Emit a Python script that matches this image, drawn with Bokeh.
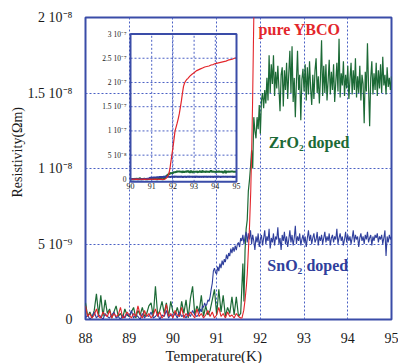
import numpy as np
from bokeh.plotting import figure
from bokeh.models import Range1d, FixedTicker, Label, Title
from bokeh.embed import file_html
from bokeh.resources import INLINE
from bokeh.core.properties import value

# ---------------- data (resistivity in units of 1e-9 Ohm m) ----------------
# measurement grids (K)
T_base_step = 0.05
T_fine_step = 0.025

# pure YBCO
red_base = [0.9,0.2,0.4,0.1,0.3,0.7,0.2,0.1,0.5,0.3,
            0.2,0.6,0.1,0.4,0.2,0.3,0.8,0.1,0.2,0.5,
            0.3,0.1,0.4,0.2,0.9,0.3,0.1,0.6,0.2,0.4,
            0.1,0.3,0.7,0.2,0.5,0.1,0.3,1.0,0.2,0.4,
            0.1,0.6,0.3,0.2,0.8,0.1,0.4,0.2,0.5,0.3,
            0.1,0.7,0.2,0.4,0.1,0.3,0.6,0.2,0.5,0.1,
            0.3,0.8,0.2,0.4,0.1,0.5,0.2,0.3,0.1,0.4,
            0.2,0.1]
red_rise_T = [91.58,91.62,91.65,91.68,91.70,91.72,91.75,91.78,91.80,91.82,
              91.84,91.86,91.90,91.95,92.00,92.05,92.10,92.15,92.20,92.25,
              92.30,92.35,92.40,92.45,92.50,92.55,92.60,92.65,92.70,92.80,
              92.90,93.00,93.10,93.20,93.30,93.40,93.50,93.60,93.70,93.80,
              93.90,94.00,94.10,94.20,94.30,94.40,94.50,94.60,94.70,94.80,
              94.90,95.00]
red_rise_R = [0.1,0.6,1.3,2.2,3.0,4.2,6.0,8.5,11,14,
              18,22,35,50,65,82,100,108,116,125,
              135,148,162,178,192,199,203,206,208,213,
              217,220,224,226,228,230,232,233,234,236,
              237,239,240,241,242,243,244,246,247,248,
              250,251]

# ZrO2 doped
green_base = [1.1,0.2,0.5,0.1,0.6,1.7,0.3,1.6,0.2,1.3,
              0.4,0.7,0.1,0.5,0.9,0.2,0.4,0.1,0.7,0.3,
              0.2,0.5,0.8,0.1,0.6,0.3,0.8,0.2,0.4,0.9,
              1.1,0.2,2.2,0.3,0.6,1.2,0.4,1.1,0.2,1.2,
              0.5,0.3,0.8,0.2,1.2,0.4,1.3,0.1,1.4,2.2,
              0.3,0.9,0.5,1.6,0.2,0.9,0.3,0.6,1.3,2.0,
              0.3,2.0,0.5,1.6,0.2,0.8,0.4,1.5,0.3,1.5,
              0.2,0.4]
green_fine = [3.7,1.2,4.6,6.0,6.6,8.5,9.2,10.1,11.2,10.0,13.4,12.5,12.0,13.4,12.6,14.2,
              12.3,14.5,15.0,14.0,15.2,14.3,16.0,14.5,17.5,15.0,
              16.9,15.6,17.5,14.8,16.4,15.3,16.8,15.3,13.8,16.2,
              16.7,14.1,16.5,15.2,17.0,14.6,16.3,17.8,15.0,18.1,
              14.4,16.0,13.4,15.8,17.8,15.2,16.2,13.2,15.9,16.6,
              15.1,16.9,14.5,16.7,14.9,17.1,15.3,14.2,16.2,14.6,
              16.5,17.3,15.0,16.1,14.3,16.0,18.5,14.8,16.8,15.0,
              16.9,14.5,15.8,17.2,14.9,16.4,15.2,16.9,14.4,15.7,
              17.0,15.1,18.6,14.7,16.3,15.5,17.1,14.8,16.2,15.3,
              16.8,14.6,15.9,17.0,14.9,16.5,15.2,17.3,14.7,16.1,
              15.0,16.8,14.5,16.2,15.6,13.0,16.4,15.1,18.3,15.4,
              12.8,16.0,17.1,14.9,16.3,15.2,17.0,14.8,16.5,15.3,
              16.9,15.0,17.4,15.5,16.2,14.9,16.7,15.4,16.0,15.2,
              16.1]

# SnO2 doped
blue_base = [0.1,0.3,0.0,0.2,0.5,0.1,0.3,0.2,0.0,0.4,
             0.2,0.1,0.3,0.5,0.1,0.2,0.0,0.3,0.1,0.4,
             0.2,0.6,0.1,0.3,0.2,0.0,0.4,0.1,0.3,0.2,
             0.5,0.1,0.2,0.4,0.0,0.3,0.2,0.6,0.1,0.3,
             0.2,0.4,0.1,0.5,0.2,0.3,0.1,0.4,0.2,0.6,
             0.3,0.2]
blue_fine = [0.4,0.7,0.5,0.9,0.8,1.1,0.9,1.0,1.3,1.2,
             1.5,2.0,2.4,3.2,3.4,3.1,3.0,3.5,3.2,3.7,
             3.4,3.9,3.6,4.0,3.8,4.3,4.0,4.4,4.2,4.7,
             4.4,4.8,4.5,4.9,4.6,5.0,5.1,4.8,5.4,5.2,
             5.6,5.0,5.5,5.8,5.1,5.7,5.3,5.9,5.0,5.6,
             5.2,4.6,5.5,5.1,5.7,4.8,5.3,
             5.6,4.9,5.4,5.9,5.0,5.5,5.2,6.0,4.7,5.4,
             5.1,5.7,4.9,5.5,5.3,6.1,5.0,5.4,4.6,5.6,
             5.2,5.8,5.0,5.5,4.8,5.3,5.9,5.1,5.6,4.9,
             5.4,6.2,5.0,5.5,5.2,5.7,4.9,5.3,5.6,5.1,
             5.5,4.8,5.4,5.9,5.2,5.6,5.0,5.4,5.7,5.1,
             5.3,5.8,4.9,5.5,5.2,5.6,5.0,5.4,5.8,5.1,
             5.5,5.2,5.7,4.9,5.4,5.6,5.1,5.5,5.3,6.0,
             5.0,5.4,5.7,5.2,5.5,4.9,5.3,5.8,5.1,5.6,
             5.2,5.5,5.0,5.4,5.9,5.1,5.6,5.3,5.5,4.8,
             5.4,5.7,5.2,5.5,5.0,5.6,5.3,5.8,5.1,5.4,
             5.6,4.9,5.5,5.2,5.6,5.4,5.7,5.1,5.5,5.3,
             5.6,5.0,5.4,5.9,4.2,5.5,5.1,5.6,5.3,5.5]

# axes
x_ticks = [88, 89, 90, 91, 92, 93, 94, 95]
y_ticks = [0, 5, 10, 15, 20]
y_tick_labels = ["0", "5 10\u207b\u2079", "1 10\u207b\u2078", "1.5 10\u207b\u2078", "2 10\u207b\u2078"]
inset_x_ticks = [90, 91, 92, 93, 94, 95]
inset_x_labels = ["90", "91", "92", "93", "94", "95"]
inset_y_ticks = [0, 50, 100, 150, 200, 250, 300]
inset_y_labels = ["0", "5 10\u207b\u2078", "1 10\u207b\u2077", "1.5 10\u207b\u2077",
                  "2 10\u207b\u2077", "2.5 10\u207b\u2077", "3 10\u207b\u2077"]

# ---------------- assemble series ----------------
def grid(start, step, n):
    return np.round(start + step * np.arange(n), 3)

red_T = np.concatenate([grid(88.0, T_base_step, len(red_base)), red_rise_T])
red_R = np.concatenate([red_base, red_rise_R])
green_T = np.concatenate([grid(88.0, T_base_step, len(green_base)), grid(91.6, T_fine_step, len(green_fine))])
green_R = np.concatenate([green_base, green_fine])
blue_T = np.concatenate([grid(88.0, T_base_step, len(blue_base)), grid(90.6, T_fine_step, len(blue_fine))])
blue_R = np.concatenate([blue_base, blue_fine])

RED = "#e3262b"
GREEN = "#1c6a36"
BLUE = "#2f3f9c"
FRAME = "#3a4ca8"
GRID = "#4a60c4"
SERIF = "Liberation Serif"
INK = "#1a1a1a"

p = figure(width=398, height=363, x_range=Range1d(88, 95), y_range=Range1d(0, 20),
           output_backend="svg", toolbar_location=None,
           min_border_left=85, min_border_right=7, min_border_top=17, min_border_bottom=44)
p.extra_x_ranges = {"ix": Range1d(87.877, 102.311)}
p.extra_y_ranges = {"iy": Range1d(-289.2, 334.1)}

p.outline_line_color = FRAME
p.outline_line_width = 2
for ax in (p.xaxis[0], p.yaxis[0]):
    ax.axis_line_color = None
    ax.major_tick_line_color = None
    ax.minor_tick_line_color = None
    ax.major_label_text_font = SERIF
    ax.major_label_text_font_size = "14px"
    ax.major_label_text_color = INK
    ax.major_label_standoff = 7
p.xaxis[0].ticker = FixedTicker(ticks=x_ticks)
p.yaxis[0].ticker = FixedTicker(ticks=y_ticks)
p.yaxis[0].major_label_overrides = {t: s for t, s in zip(y_ticks, y_tick_labels)}
p.xgrid.ticker = FixedTicker(ticks=x_ticks)
p.ygrid.ticker = FixedTicker(ticks=y_ticks)
for g in (p.xgrid[0], p.ygrid[0]):
    g.grid_line_color = GRID
    g.grid_line_dash = "2 2"
    g.grid_line_width = 1

# axis titles as side titles (so they can be offset like the original)
p.add_layout(Title(text="Temperature(K)", align="left", offset=80, standoff=0,
                   text_font=SERIF, text_font_size="15px", text_font_style="normal",
                   text_color=INK), "below")
p.add_layout(Title(text="Resistivity(\u03a9m)", align="left", offset=122, standoff=0,
                   text_font=SERIF, text_font_size="14px", text_font_style="normal",
                   text_color=INK), "left")

# main curves
p.line(green_T, green_R, color=GREEN, line_width=1.2)
p.line(blue_T, blue_R, color=BLUE, line_width=1.1)
p.line(red_T, red_R, color=RED, line_width=1.1)

# inset (same data, its own scales)
ig_x = [90, 95]
for t in inset_x_ticks[1:-1]:
    p.line([t, t], [-5, 300], x_range_name="ix", y_range_name="iy",
           color=GRID, line_dash="2 2", line_width=1)
for v in inset_y_ticks[1:-1]:
    p.line(ig_x, [v, v], x_range_name="ix", y_range_name="iy",
           color=GRID, line_dash="2 2", line_width=1)

def inset_part(T, R):
    T = np.asarray(T); R = np.asarray(R)
    m = T >= 90
    return T[m], R[m]

for T, R, c, w in ((green_T, green_R, GREEN, 2.0), (blue_T, blue_R, BLUE, 2.0), (red_T, red_R, RED, 1.2)):
    tt, rr = inset_part(T, R)
    p.line(tt, rr, x_range_name="ix", y_range_name="iy", color=c, line_width=w)

p.quad(left=[90], right=[95], bottom=[-5], top=[300], x_range_name="ix", y_range_name="iy",
       fill_color=None, line_color=FRAME, line_width=2)

p.text(x=inset_x_ticks, y=[-5] * len(inset_x_ticks), text=inset_x_labels,
       x_range_name="ix", y_range_name="iy", text_align="center", text_baseline="top",
       y_offset=1, text_font=value(SERIF), text_font_size="8px", text_color=INK)
p.text(x=[90] * len(inset_y_ticks), y=inset_y_ticks, text=inset_y_labels,
       x_range_name="ix", y_range_name="iy", text_align="right", text_baseline="middle",
       x_offset=-4, text_font=value(SERIF), text_font_size="7.5px", text_color=INK)

# series labels
for txt, x, y, c in (("pure YBCO", 91.96, 19.2, RED),
                     ("ZrO\u2082 doped", 92.19, 11.7, GREEN),
                     ("SnO\u2082 doped", 92.16, 3.6, BLUE)):
    p.add_layout(Label(x=x, y=y, text=txt, text_color=c, text_font=SERIF,
                       text_font_size="16px", text_font_style="bold",
                       text_align="left", text_baseline="middle"))

open("out.html", "w").write(file_html(p, INLINE))
